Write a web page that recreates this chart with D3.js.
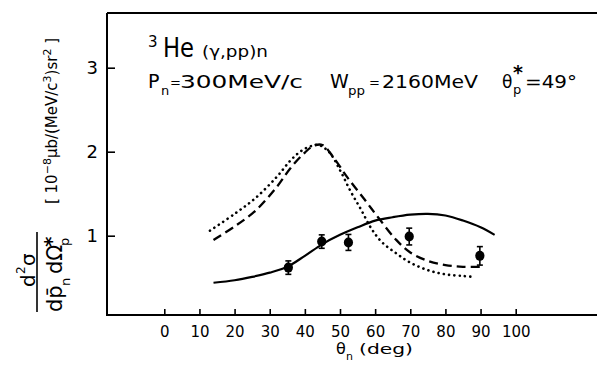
<!DOCTYPE html>
<html>
<head>
<meta charset="utf-8">
<script src="https://cdn.jsdelivr.net/npm/d3@7"></script>
<style>
  body { margin: 0; background: #fff; }
  svg { display: block; }
</style>
</head>
<body>
<div id="chart"></div>
<script>
// tick labels
const thetaTicks = [0, 10, 20, 30, 40, 50, 60, 70, 80, 90, 100];
const sigmaTicks = [1, 2, 3];

// measured points
const dataTheta = [35.3, 44.8, 52.4, 69.7, 89.8];
const dataSigma = [0.62, 0.93, 0.92, 0.99, 0.76];
const dataErr = [0.08, 0.08, 0.095, 0.1, 0.11];

// calculations
const solidTheta = [14, 20, 25, 30, 35, 40, 45, 50, 55, 60, 65, 70, 75, 80, 85, 90, 94];
const solidSigma = [0.44, 0.47, 0.51, 0.56, 0.63, 0.76, 0.90, 1.01, 1.10, 1.18, 1.22, 1.25, 1.26, 1.24, 1.18, 1.10, 1.01];

const dashTheta = [14, 20, 26, 32, 36, 40, 42.5, 45, 48, 52, 57, 61, 66, 70, 75, 80, 85, 90];
const dashSigma = [0.95, 1.11, 1.30, 1.58, 1.81, 1.99, 2.07, 2.08, 1.94, 1.70, 1.43, 1.21, 0.95, 0.80, 0.70, 0.65, 0.63, 0.63];

const dotTheta = [13, 20, 26, 32, 36, 39, 42, 44, 47, 50, 53, 56, 59, 62, 66, 70, 75, 80, 85, 88];
const dotSigma = [1.06, 1.26, 1.45, 1.70, 1.90, 2.01, 2.07, 2.08, 1.99, 1.78, 1.53, 1.31, 1.08, 0.92, 0.79, 0.68, 0.59, 0.54, 0.52, 0.51];

const width = 597;
const height = 371;
const frame = { left: 107, top: 13, bottom: 315, right: 597 };
const font = 'DejaVu Sans';

const svg = d3
  .select('#chart')
  .append('svg')
  .attr('width', width)
  .attr('height', height);

const x = d3.scaleLinear().domain([0, 100]).range([164.3, 515.7]);
const y = d3.scaleLinear().domain([0, 1]).range([319.7, 235.7]);

// frame
svg
  .append('path')
  .attr('d', `M${frame.left},${frame.top}V${frame.bottom}H${frame.right}M${frame.left},${frame.top}H${frame.right}`)
  .attr('fill', 'none')
  .attr('stroke', '#000')
  .attr('stroke-width', 2);

// y axis
const yAxis = svg
  .append('g')
  .attr('transform', `translate(${frame.left},0)`)
  .call(
    d3.axisLeft(y).tickValues(sigmaTicks).tickSizeInner(-8).tickSizeOuter(0).tickPadding(9).tickFormat(d3.format('d'))
  );
yAxis.select('.domain').remove();
yAxis.selectAll('line').attr('stroke-width', 1.6);
yAxis.selectAll('text').attr('font-family', font).attr('font-size', 18).attr('fill', '#000');

// x axis
const xAxis = svg
  .append('g')
  .attr('transform', `translate(0,${frame.bottom})`)
  .call(
    d3.axisBottom(x).tickValues(thetaTicks).tickSizeInner(-6).tickSizeOuter(0).tickPadding(11).tickFormat(d3.format('d'))
  );
xAxis.select('.domain').remove();
xAxis.selectAll('line').attr('stroke-width', 1.6);
xAxis.selectAll('text').attr('font-family', font).attr('font-size', 15).attr('fill', '#000');

// curves
const line = (xs, ys) =>
  d3.line().curve(d3.curveCatmullRom)(xs.map((t, i) => [x(t), y(ys[i])]));

svg.append('path').attr('d', line(solidTheta, solidSigma))
  .attr('fill', 'none').attr('stroke', '#000').attr('stroke-width', 2.2);

svg.append('path').attr('d', line(dashTheta, dashSigma))
  .attr('fill', 'none').attr('stroke', '#000').attr('stroke-width', 2.3)
  .attr('stroke-dasharray', '9,5');

svg.append('path').attr('d', line(dotTheta, dotSigma))
  .attr('fill', 'none').attr('stroke', '#000').attr('stroke-width', 2.6)
  .attr('stroke-linecap', 'round').attr('stroke-dasharray', '0.1,5.2');

// data points with error bars
const pts = svg.append('g').selectAll('g').data(dataTheta).enter().append('g');
pts.append('line')
  .attr('x1', (d) => x(d)).attr('x2', (d) => x(d))
  .attr('y1', (d, i) => y(dataSigma[i] - dataErr[i]))
  .attr('y2', (d, i) => y(dataSigma[i] + dataErr[i]))
  .attr('stroke', '#000').attr('stroke-width', 1.6);
[-1, 1].forEach((s) => {
  pts.append('line')
    .attr('x1', (d) => x(d) - 3).attr('x2', (d) => x(d) + 3)
    .attr('y1', (d, i) => y(dataSigma[i] + s * dataErr[i]))
    .attr('y2', (d, i) => y(dataSigma[i] + s * dataErr[i]))
    .attr('stroke', '#000').attr('stroke-width', 1.6);
});
pts.append('ellipse')
  .attr('cx', (d) => x(d))
  .attr('cy', (d, i) => y(dataSigma[i]))
  .attr('rx', 4.6).attr('ry', 5)
  .attr('fill', '#000');

// text helper
function label(parent, txt, px, py, size, opts = {}) {
  const t = parent.append('text')
    .attr('x', px).attr('y', py)
    .attr('font-family', font)
    .attr('font-size', size)
    .attr('fill', '#000')
    .text(txt);
  if (opts.len) t.attr('textLength', opts.len).attr('lengthAdjust', 'spacingAndGlyphs');
  if (opts.anchor) t.attr('text-anchor', opts.anchor);
  return t;
}

// title lines
label(svg, '3', 148, 47, 15);
label(svg, 'He', 163, 57, 26, { len: 31 });
label(svg, '(γ,pp)n', 202, 57, 15, { len: 66 });

label(svg, 'P', 148, 88, 19);
label(svg, 'n', 161, 95, 13);
label(svg, '=', 170, 87, 13);
label(svg, '300MeV/c', 180, 88, 18, { len: 123 });
label(svg, 'W', 330, 88, 19);
label(svg, 'pp', 348, 95, 13, { len: 17 });
label(svg, '=', 369, 87, 13);
label(svg, '2160MeV', 382, 88, 18, { len: 96 });
label(svg, 'θ', 502, 88, 17);
label(svg, '*', 513, 79, 19).attr('font-weight', 'bold');
label(svg, 'p', 513, 94, 13);
label(svg, '=49°', 525, 88, 18, { len: 52 });

// x axis title
label(svg, 'θ', 336, 354, 16);
label(svg, 'n', 346, 360, 11);
label(svg, '(deg)', 359, 354, 14, { len: 54 });

// y axis title: fraction
const num = svg.append('g').attr('transform', 'translate(35,287) rotate(-90)');
label(num, 'd', 0, 0, 20);
label(num, '2', 13, -10, 12);
label(num, 'σ', 21, 0, 20);

svg.append('line')
  .attr('x1', 37).attr('x2', 37).attr('y1', 232).attr('y2', 312)
  .attr('stroke', '#000').attr('stroke-width', 1.6);

const den = svg.append('g').attr('transform', 'translate(62,312) rotate(-90)');
label(den, 'dp\u0304', 0, 0, 21);
label(den, 'n', 26, 8, 13);
label(den, 'dΩ', 38, 0, 21);
label(den, '*', 65, -4, 20).attr('font-weight', 'bold');
label(den, 'p', 66, 7, 13);

// units
const units = svg.append('g').attr('transform', 'translate(57,121) rotate(-90)');
const ut = units.append('text')
  .attr('font-family', font).attr('font-size', 15).attr('fill', '#000')
  .attr('text-anchor', 'middle');
ut.append('tspan').text('[ 10');
ut.append('tspan').attr('dy', -6).attr('font-size', 11).text('−8');
ut.append('tspan').attr('dy', 6).text('μb/(MeV/c');
ut.append('tspan').attr('dy', -6).attr('font-size', 11).text('3');
ut.append('tspan').attr('dy', 6).text(')sr');
ut.append('tspan').attr('dy', -6).attr('font-size', 11).text('2');
ut.append('tspan').attr('dy', 6).text(' ]');
</script>
</body>
</html>
